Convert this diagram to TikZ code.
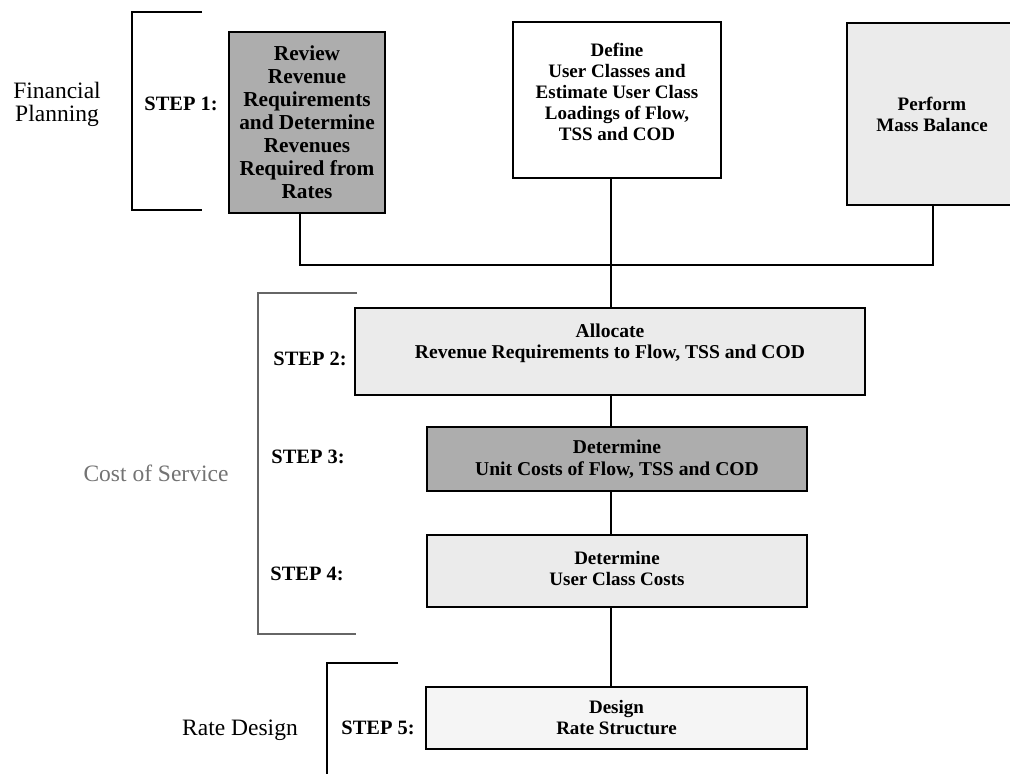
\documentclass[tikz,border=0pt]{standalone}
\usepackage{fontspec}
\setmainfont{Liberation Serif}
\begin{document}
\begin{tikzpicture}[x=1pt,y=-1pt,
  stepbox/.style={draw=black, line width=1.8pt, rectangle, inner sep=0pt, align=center,
    font=\bfseries\fontsize{19}{21}\selectfont},
  boxtext/.style={align=center, inner sep=0pt, font=\bfseries\fontsize{19}{21}\selectfont},
  darkfill/.style={fill=black!32},
  lightfill/.style={fill=black!8},
  palefill/.style={fill=black!4},
  steplabel/.style={font=\bfseries\fontsize{20.4}{23}\selectfont, inner sep=0pt},
  sidelabel/.style={font=\fontsize{23.5}{23}\selectfont, align=center, inner sep=0pt},
  conn/.style={line width=1.5pt, black},
  bracketline/.style={line width=2.2pt, black},
]
\useasboundingbox (0,0) rectangle (1010,774);
\fill[white] (0,0) rectangle (1010,774);

% side labels
\node[sidelabel] (fp) at (57,104) {Financial\\Planning};
\node[sidelabel, text=black!55] (cos) at (156,473) {Cost of Service};
\node[sidelabel] (rd) at (240,730) {Rate Design};

% brackets
\draw[bracketline] (202,12) -- (132,12) -- (132,210) -- (202,210);
\draw[line width=1.8pt, black!60] (357,293) -- (258,293) -- (258,634) -- (356,634);
\draw[line width=2.6pt, black] (398,663) -- (327,663) -- (327,780);

% step labels
\node[steplabel] (l1) at (181,104) {STEP 1:};
\node[steplabel] (l2) at (310,359) {STEP 2:};
\node[steplabel] (l3) at (308,457) {STEP 3:};
\node[steplabel] (l4) at (307,574) {STEP 4:};
\node[steplabel] (l5) at (378,728) {STEP 5:};

% boxes
\node[stepbox, darkfill, minimum width=156, minimum height=181,
  font=\bfseries\fontsize{21.3}{23}\selectfont] (s1) at (307,122.5)
  {Review\\Revenue\\Requirements\\and Determine\\Revenues\\Required from\\Rates};
\node[stepbox, fill=white, minimum width=208, minimum height=156] (define) at (617,100) {};
\node[boxtext] (defineT) at ([yshift=8pt]define.center)
  {Define\\User Classes and\\Estimate User Class\\Loadings of Flow,\\TSS and COD};
\node[stepbox, lightfill, minimum width=170, minimum height=182] (mass) at (932,114)
  {Perform\\Mass Balance};
\node[stepbox, lightfill, minimum width=510, minimum height=87] (s2) at (610,351.5) {};
\node[boxtext, font=\bfseries\fontsize{19.6}{21}\selectfont] (s2T) at ([yshift=8pt]s2.center)
  {Allocate\\Revenue Requirements to Flow, TSS and COD};
\node[stepbox, darkfill, minimum width=380, minimum height=64,
  font=\bfseries\fontsize{19.6}{22}\selectfont] (s3) at (617,459)
  {Determine\\Unit Costs of Flow, TSS and COD};
\node[stepbox, lightfill, minimum width=380, minimum height=72] (s4) at (617,571) {};
\node[boxtext] (s4T) at ([yshift=3pt]s4.center) {Determine\\User Class Costs};
\node[stepbox, palefill, minimum width=381, minimum height=62] (s5) at (616.5,718)
  {Design\\Rate Structure};

% connectors
\coordinate (j1) at (300,265);
\coordinate (jm) at (611,265);
\coordinate (j3) at (933,265);
\draw[conn] (s1.south -| j1) -- (j1) -- (j3) -- (mass.south -| j3);
\draw[conn] (define.south -| jm) -- (jm) -- (s2.north -| jm);
\draw[conn] (s2.south -| jm) -- (s3.north -| jm);
\draw[conn] (s3.south -| jm) -- (s4.north -| jm);
\draw[conn] (s4.south -| jm) -- (s5.north -| jm);
\end{tikzpicture}
\end{document}
